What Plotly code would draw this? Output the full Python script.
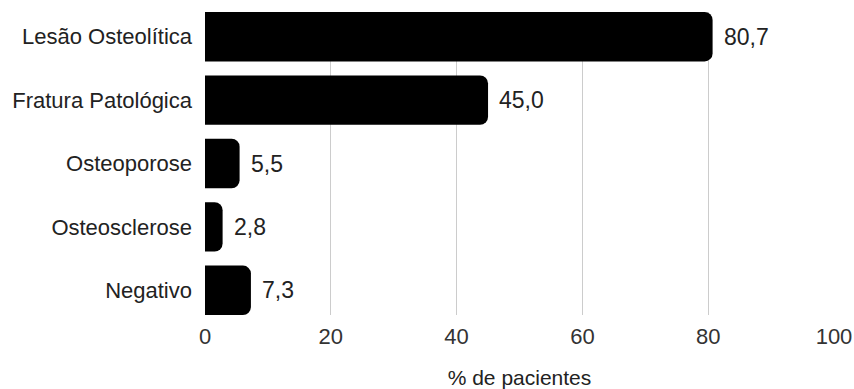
import plotly.graph_objects as go

categories = ["Lesão Osteolítica", "Fratura Patológica", "Osteoporose", "Osteosclerose", "Negativo"]
values = [80.7, 45.0, 5.5, 2.8, 7.3]
x_ticks = [0, 20, 40, 60, 80, 100]
x_title = "% de pacientes"

FONT = "Liberation Sans, Arial, sans-serif"
half = 0.39  # half of bar thickness in category units

fig = go.Figure(
    go.Bar(
        x=values,
        y=categories,
        orientation="h",
        width=2 * half,
        marker=dict(color="#000000", cornerradius=8, line=dict(width=0)),
        hoverinfo="skip",
    )
)

# value labels placed just past the end of each bar
for cat, v in zip(categories, values):
    fig.add_annotation(
        x=v, y=cat, text=f"{v:.1f}".replace(".", ","),
        xanchor="left", yanchor="middle", xshift=9, showarrow=False,
        font=dict(family=FONT, size=23, color="#222222"),
    )

fig.update_layout(
    width=854, height=389,
    margin=dict(l=205, r=20, t=12, b=74, autoexpand=False),
    paper_bgcolor="white", plot_bgcolor="white",
    showlegend=False,
    font=dict(family=FONT),
    xaxis=dict(
        range=[0, 100], tickvals=x_ticks, ticktext=[str(t) for t in x_ticks],
        showgrid=True, gridcolor="#cccccc", gridwidth=1,
        zeroline=False, showline=False, automargin=False,
        tickfont=dict(size=22, color="#333333"),
        ticklabelstandoff=6,
        title=dict(text=x_title, font=dict(size=21, color="#222222"), standoff=24),
    ),
    yaxis=dict(
        categoryorder="array", categoryarray=categories,
        range=[len(categories) - 1 + half, -half],
        showgrid=False, zeroline=False, showline=False, automargin=False,
        tickfont=dict(size=22, color="#222222"),
        ticks="", ticklabelstandoff=12,
    ),
)

fig.write_html("out.html")
